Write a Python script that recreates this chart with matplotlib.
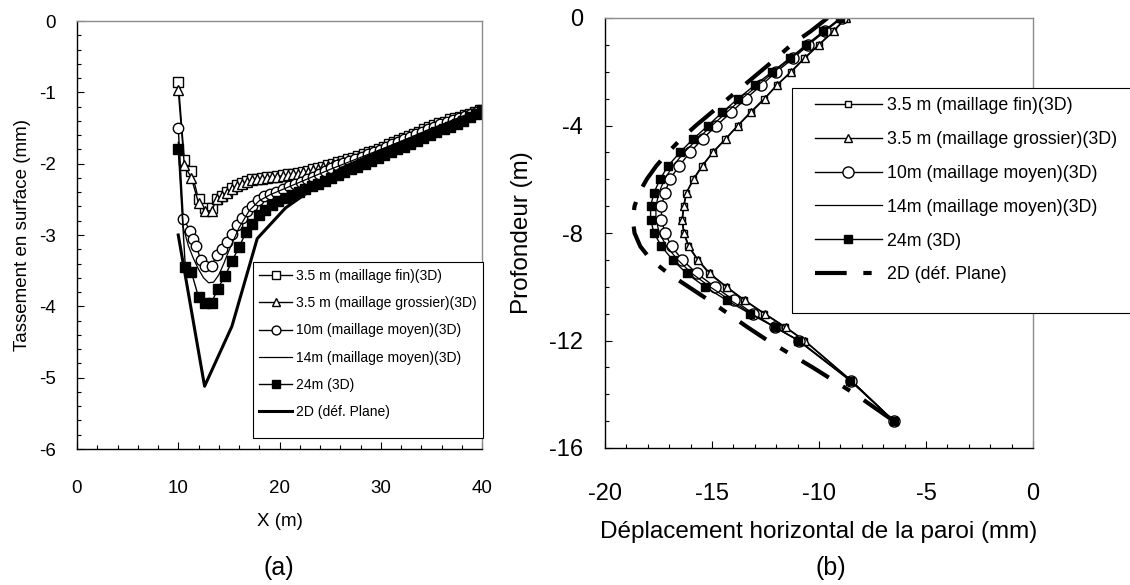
import matplotlib
matplotlib.use("Agg")
import matplotlib.pyplot as plt
from matplotlib.patches import Rectangle
from matplotlib.ticker import MultipleLocator

plt.rcParams["font.family"] = ["Liberation Sans", "DejaVu Sans"]

W, H = 1130, 585

# ---------------- (a) surface settlement ----------------
fin_a_x = [10.0, 10.6, 11.3, 12.0, 12.6, 13.3, 13.8, 14.3, 14.8, 15.3, 15.8, 16.3, 16.8, 17.3, 17.8,
           18.3, 18.8, 19.3, 19.8, 20.3, 20.8, 21.3, 21.8, 22.3, 22.8, 23.3, 23.8, 24.3, 24.8, 25.3,
           25.8, 26.3, 26.8, 27.3, 27.8, 28.3, 28.8, 29.3, 29.8, 30.3, 30.8, 31.3, 31.8, 32.3, 32.8,
           33.3, 33.8, 34.3, 34.8, 35.3, 35.8, 36.3, 36.8, 37.3, 37.8, 38.3, 38.8, 39.3, 39.8]
fin_a_y = [-0.85, -1.95, -2.1, -2.5, -2.62, -2.62, -2.5, -2.45, -2.4, -2.34, -2.3, -2.27, -2.24, -2.22,
           -2.21, -2.2, -2.19, -2.18, -2.17, -2.16, -2.15, -2.14, -2.13, -2.11, -2.1, -2.08, -2.06,
           -2.04, -2.02, -2.0, -1.98, -1.96, -1.94, -1.92, -1.89, -1.87, -1.84, -1.82, -1.79, -1.76,
           -1.73, -1.7, -1.67, -1.64, -1.61, -1.58, -1.55, -1.52, -1.49, -1.46, -1.43, -1.41, -1.38,
           -1.36, -1.34, -1.32, -1.3, -1.28, -1.25]
gros_a_y = [-0.97, -2.02, -2.2, -2.55, -2.66, -2.66, -2.5, -2.45, -2.41, -2.36, -2.31, -2.28, -2.25,
            -2.23, -2.22, -2.21, -2.2, -2.19, -2.18, -2.17, -2.16, -2.15, -2.14, -2.12, -2.11, -2.09,
            -2.07, -2.05, -2.03, -2.01, -1.99, -1.97, -1.95, -1.93, -1.9, -1.88, -1.85, -1.83, -1.8,
            -1.77, -1.74, -1.71, -1.68, -1.65, -1.62, -1.59, -1.56, -1.53, -1.5, -1.47, -1.44, -1.42,
            -1.39, -1.37, -1.35, -1.33, -1.31, -1.29, -1.26]

m10_a_x = [10.0, 10.5, 11.2, 11.5, 11.8, 12.2, 12.6, 13.3, 13.8, 14.3, 14.8, 15.3, 15.8, 16.3, 16.8,
           17.3, 17.9, 18.5, 19.1, 19.7, 20.3, 20.9, 21.5, 22.1, 22.7, 23.3, 23.9, 24.5, 25.1, 25.7,
           26.3, 26.9, 27.5, 28.1, 28.7, 29.3, 29.9, 30.5, 31.1, 31.7, 32.3, 32.9, 33.5, 34.1, 34.7,
           35.3, 35.9, 36.5, 37.1, 37.7, 38.3, 38.9, 39.5]
m10_a_y = [-1.5, -2.78, -2.94, -3.05, -3.15, -3.35, -3.43, -3.43, -3.28, -3.2, -3.1, -2.98, -2.86,
           -2.76, -2.67, -2.59, -2.51, -2.46, -2.43, -2.4, -2.36, -2.32, -2.29, -2.26, -2.22, -2.18,
           -2.14, -2.1, -2.06, -2.02, -1.99, -1.96, -1.93, -1.9, -1.87, -1.84, -1.81, -1.77, -1.73,
           -1.69, -1.66, -1.62, -1.58, -1.55, -1.51, -1.48, -1.45, -1.42, -1.39, -1.36, -1.33, -1.3,
           -1.27]

m14_a_x = [10.0, 10.5, 11.0, 11.5, 12.0, 12.5, 13.0, 13.5, 14.0, 14.5, 15.0, 15.5, 16.0, 17.0, 18.0,
           19.0, 20.0, 22.0, 25.0, 30.0, 35.0, 40.0]
m14_a_y = [-1.7, -2.9, -3.15, -3.33, -3.48, -3.6, -3.67, -3.66, -3.56, -3.4, -3.22, -3.06, -2.9,
           -2.66, -2.52, -2.44, -2.38, -2.26, -2.08, -1.8, -1.52, -1.24]

m24_a_x = [10.0, 10.7, 11.3, 12.0, 12.6, 13.3, 13.9, 14.6, 15.3, 16.0, 16.7, 17.3, 18.0, 18.6, 19.3,
           19.9, 20.6, 21.2, 21.9, 22.5, 23.2, 23.8, 24.5, 25.1, 25.8, 26.4, 27.1, 27.7, 28.4, 29.0,
           29.7, 30.3, 31.0, 31.6, 32.3, 32.9, 33.6, 34.2, 34.9, 35.5, 36.2, 36.8, 37.5, 38.1, 38.8,
           39.4, 40.0]
m24_a_y = [-1.8, -3.45, -3.52, -3.87, -3.95, -3.95, -3.75, -3.58, -3.37, -3.17, -2.96, -2.84, -2.72,
           -2.65, -2.58, -2.53, -2.48, -2.44, -2.4, -2.36, -2.32, -2.28, -2.24, -2.2, -2.16, -2.12,
           -2.08, -2.04, -2.0, -1.96, -1.92, -1.88, -1.84, -1.8, -1.76, -1.72, -1.68, -1.64, -1.6,
           -1.56, -1.52, -1.48, -1.44, -1.4, -1.35, -1.3, -1.25]

plane_a_x = [10.0, 12.6, 15.3, 17.8, 20.6, 23.5, 26.0, 30.0, 35.0, 40.0]
plane_a_y = [-3.0, -5.12, -4.28, -3.05, -2.62, -2.33, -2.07, -1.82, -1.52, -1.24]

# ---------------- (b) wall horizontal displacement ----------------
depth_b = [0, -0.5, -1, -1.5, -2, -2.5, -3, -3.5, -4, -4.5, -5, -5.5, -6, -6.5, -7, -7.5, -8, -8.5,
           -9, -9.5, -10, -10.5, -11, -11.5, -12, -13.5, -15]
fin_b = [-8.75, -9.35, -10.02, -10.7, -11.32, -11.98, -12.56, -13.2, -13.8, -14.38, -14.97, -15.47,
         -15.88, -16.2, -16.33, -16.4, -16.33, -16.1, -15.68, -15.14, -14.36, -13.5, -12.57, -11.6,
         -10.7, -8.5, -6.5]
gros_b = [-8.73, -9.32, -10.0, -10.67, -11.29, -11.96, -12.53, -13.16, -13.78, -14.35, -14.95, -15.44,
          -15.85, -16.19, -16.31, -16.38, -16.31, -16.07, -15.65, -15.1, -14.32, -13.47, -12.53,
          -11.56, -10.67, -8.47, -6.5]
m10_b = [-8.94, -9.72, -10.5, -11.2, -11.99, -12.69, -13.42, -14.09, -14.79, -15.44, -16.03, -16.53,
         -16.97, -17.2, -17.36, -17.36, -17.2, -16.89, -16.38, -15.72, -14.87, -13.98, -13.08, -12.07,
         -10.94, -8.5, -6.5]
m14_b = [-8.97, -9.76, -10.55, -11.3, -12.1, -12.85, -13.6, -14.3, -15.0, -15.68, -16.3, -16.82,
         -17.22, -17.48, -17.62, -17.62, -17.46, -17.12, -16.6, -15.95, -15.1, -14.15, -13.16, -12.07,
         -10.96, -8.52, -6.5]
m24_b = [-9.0, -9.8, -10.6, -11.37, -12.18, -13.0, -13.78, -14.51, -15.18, -15.88, -16.5, -17.05,
         -17.43, -17.71, -17.87, -17.87, -17.71, -17.36, -16.84, -16.19, -15.33, -14.32, -13.23,
         -12.07, -10.98, -8.54, -6.5]
depth_2d = [0, -0.5, -1, -1.5, -2, -2.5, -3, -3.5, -4, -4.5, -5, -5.5, -6, -6.5, -7, -7.5, -8, -8.5,
            -9, -9.5, -10, -10.5, -11, -11.5, -12, -13, -14, -15]
plane_b = [-9.6, -10.4, -11.3, -12.0, -12.75, -13.5, -14.25, -15.0, -15.75, -16.45, -17.05, -17.6,
           -18.05, -18.4, -18.62, -18.7, -18.62, -18.35, -17.85, -17.05, -16.1, -15.15, -14.25, -13.35,
           -12.4, -10.3, -8.3, -6.5]

labels = ["3.5 m (maillage fin)(3D)", "3.5 m (maillage grossier)(3D)", "10m (maillage moyen)(3D)",
          "14m (maillage moyen)(3D)", "24m (3D)", "2D (déf. Plane)"]


def px(x, y):
    return x / W, 1 - y / H


def style_axes(ax, xmaj, xmin, ymaj, ymin, fs, xpad, ypad):
    ax.xaxis.set_major_locator(MultipleLocator(xmaj))
    ax.xaxis.set_minor_locator(MultipleLocator(xmin))
    ax.yaxis.set_major_locator(MultipleLocator(ymaj))
    ax.yaxis.set_minor_locator(MultipleLocator(ymin))
    ax.tick_params(which="both", direction="in", top=False, right=False, width=0.8, labelsize=fs)
    ax.tick_params(which="major", length=5)
    ax.tick_params(which="minor", length=3)
    ax.tick_params(axis="x", pad=xpad)
    ax.tick_params(axis="y", pad=ypad)
    for side in ["top", "right"]:
        ax.spines[side].set_color("#8c8c8c")
    for side in ["left", "bottom"]:
        ax.spines[side].set_color("black")
    for s in ax.spines.values():
        s.set_linewidth(1.0)
    ax.xaxis.set_major_formatter(matplotlib.ticker.FuncFormatter(lambda v, p: f"{v:g}"))
    ax.yaxis.set_major_formatter(matplotlib.ticker.FuncFormatter(lambda v, p: f"{v:g}"))


fig = plt.figure(figsize=(W / 100, H / 100), dpi=100)

# axes rectangles in pixels
ax1 = fig.add_axes([77 / W, 1 - 449 / H, (482 - 77) / W, (449 - 21) / H])
ax2 = fig.add_axes([605 / W, 1 - 448 / H, (1033 - 605) / W, (448 - 18) / H])

# ---- (a)
h = []
h += ax1.plot(fin_a_x, fin_a_y, "-", color="black", lw=1.0, marker="s", ms=7, mfc="white", mec="black", mew=1.0)
h += ax1.plot(fin_a_x, gros_a_y, "-", color="black", lw=1.0, marker="^", ms=6.5, mfc="white", mec="black", mew=1.0)
h += ax1.plot(m10_a_x, m10_a_y, "-", color="black", lw=1.0, marker="o", ms=7.5, mfc="white", mec="black", mew=1.0)
h += ax1.plot(m14_a_x, m14_a_y, "-", color="black", lw=0.9)
h += ax1.plot(m24_a_x, m24_a_y, "-", color="black", lw=1.0, marker="s", ms=6.5, mfc="black", mec="black")
h += ax1.plot(plane_a_x, plane_a_y, "-", color="black", lw=2.2)
ax1.set_xlim(0, 40)
ax1.set_ylim(-6, 0)
style_axes(ax1, 10, 2, 1, 0.2, 13.5, 22, 15)
ax1.set_xlabel("X (m)", fontsize=13.5, labelpad=12)
ax1.set_ylabel("Tassement en surface (mm)", fontsize=13.5, labelpad=6)

# legend (a): frame drawn separately so the padding can match
fig.add_artist(Rectangle(px(253, 438), 230 / W, 176 / H, transform=fig.transFigure,
                         facecolor="white", edgecolor="black", lw=0.8, zorder=2))
fig.legend(h, labels, loc="upper left", bbox_to_anchor=px(259, 269), bbox_transform=fig.transFigure,
           frameon=False, fontsize=10, borderpad=0, borderaxespad=0, handlelength=2.4,
           handletextpad=0.3, labelspacing=0.95, numpoints=1, markerscale=0.85)

# ---- (b)
g = []
g += ax2.plot(fin_b, depth_b, "-", color="black", lw=1.0, marker="s", ms=4.8, mfc="white", mec="black", mew=1.0)
g += ax2.plot(gros_b, depth_b, "-", color="black", lw=1.0, marker="^", ms=5.5, mfc="white", mec="black", mew=1.0)
g += ax2.plot(m10_b, depth_b, "-", color="black", lw=1.0, marker="o", ms=8, mfc="white", mec="black", mew=1.0)
g += ax2.plot(m14_b, depth_b, "-", color="black", lw=0.9)
g += ax2.plot(m24_b, depth_b, "-", color="black", lw=1.0, marker="s", ms=6, mfc="black", mec="black")
g += ax2.plot(plane_b, depth_2d, color="black", lw=3, linestyle=(0, (7.6, 4, 2, 4)))
ax2.set_xlim(-20, 0)
ax2.set_ylim(-16, 0)
style_axes(ax2, 5, 1, 4, 1, 17, 25, 16)
ax2.set_xlabel("Déplacement horizontal de la paroi (mm)", fontsize=17.5, labelpad=12)
ax2.set_ylabel("Profondeur (m)", fontsize=17.5, labelpad=11)

fig.add_artist(Rectangle(px(792, 313), 360 / W, 225 / H, transform=fig.transFigure,
                         facecolor="white", edgecolor="black", lw=0.8, zorder=2))
fig.legend(g, labels, loc="upper left", bbox_to_anchor=px(815, 97), bbox_transform=fig.transFigure,
           frameon=False, fontsize=12.8, borderpad=0, borderaxespad=0, handlelength=3.75,
           handletextpad=0.28, labelspacing=0.95, numpoints=1)

fig.text(*px(279, 568), "(a)", fontsize=18, ha="center", va="center")
fig.text(*px(831, 568), "(b)", fontsize=18, ha="center", va="center")

fig.savefig("out.png", dpi=100)
